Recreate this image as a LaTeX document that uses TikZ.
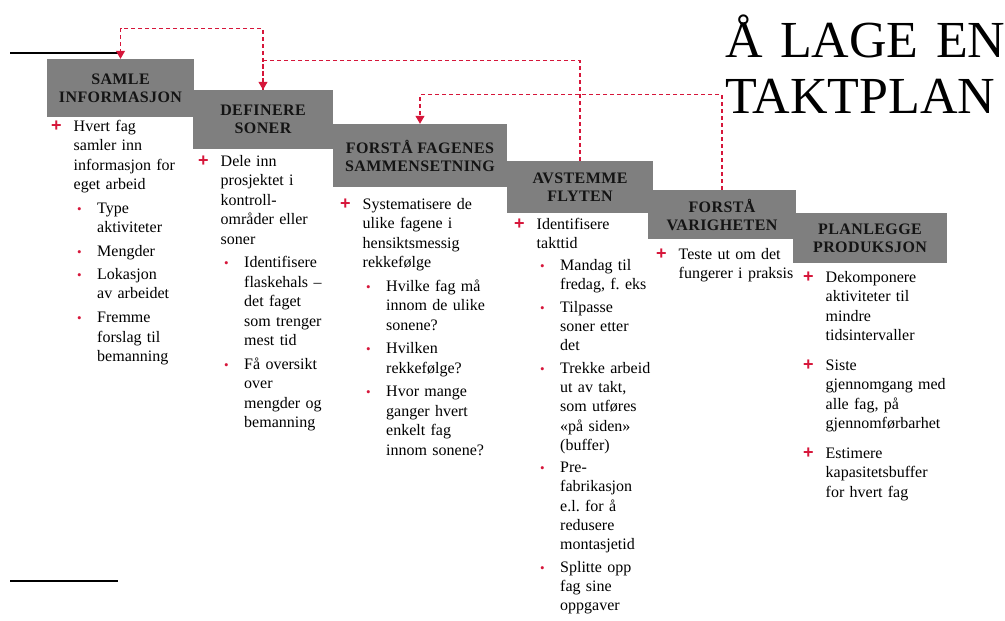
\documentclass[tikz,border=0pt]{standalone}
\usepackage{fontspec}
\setmainfont{Liberation Serif}
\newfontfamily\kopffont{Liberation Serif}[LetterSpace=2.5]
\newfontfamily\plusfont{Liberation Sans}
\usetikzlibrary{arrows.meta}
\definecolor{rd}{RGB}{214,22,58}
\definecolor{boxgray}{RGB}{127,127,127}
\newlength\punktgap
\setlength\punktgap{4pt}
\newcommand\hpunkt[1]{\let\\\newline\hangindent=22.5pt\hangafter=0\noindent\llap{\makebox[22.5pt][l]{\textcolor{rd}{\plusfont\fontsize{18}{18}\selectfont\bfseries +}}}#1\par\vspace{\punktgap}}
\newcommand\upunkt[1]{\let\\\newline\hangindent=46pt\hangafter=0\noindent\llap{\makebox[20pt][l]{\textcolor{rd}{\fontsize{13}{13}\selectfont •}}}#1\par\vspace{\punktgap}}
\begin{document}
\begin{tikzpicture}[x=1pt, y=-1pt,
    steg/.style={fill=boxgray, inner sep=0pt, align=center, text=black!92,
      font=\kopffont\bfseries\fontsize{16}{18}\selectfont},
    liste/.style={anchor=base west, inner sep=0pt, text width=160pt,
      font=\fontsize{16}{19.5}\selectfont},
    tilbake/.style={draw=rd, line width=1.1pt, dash pattern=on 4pt off 3pt,
      -{Triangle[width=9pt,length=8pt]}}]
    \useasboundingbox (0,0) rectangle (1005,621);

    \draw[line width=1.5pt] (10,53) -- (118,53);
    \draw[line width=1.5pt] (10,581) -- (118,581);

    \node[anchor=base west, inner sep=0pt, text width=290pt,
      font=\fontsize{52}{56}\selectfont] (tittel) at (725,57) {Å LAGE EN\\TAKTPLAN};

    % trinnene
    \node[steg, minimum width=147pt, minimum height=58pt] (b1) at (120.5,88) {SAMLE\\INFORMASJON};
    \node[steg, minimum width=140pt, minimum height=59pt] (b2) at (263,119.5) {DEFINERE\\SONER};
    \node[steg, minimum width=174pt, minimum height=63pt] (b3) at (420,155.5) {FORSTÅ FAGENES\\SAMMENSETNING};
    \node[steg, minimum width=146pt, minimum height=52pt] (b4) at (580,187) {AVSTEMME\\FLYTEN};
    \node[steg, minimum width=148pt, minimum height=49pt] (b5) at (722,214.5) {FORSTÅ\\VARIGHETEN};
    \node[steg, minimum width=154pt, minimum height=50pt] (b6) at (870,238) {PLANLEGGE\\PRODUKSJON};

    \draw[tilbake] (b2.north) -- ++(0,-61) -| (b1.north);
    \draw[tilbake] (b4.north) -- ++(0,-100) -| (b2.north);
    \draw[tilbake] (b5.north) -- ++(0,-95) -| (b3.north);

    % punktene
    \node[liste] (l1) at (51,131) {%
      \hpunkt{Hvert fag\\samler inn\\informasjon for\\eget arbeid}
      \upunkt{Type\\aktiviteter}
      \upunkt{Mengder}
      \upunkt{Lokasjon\\av arbeidet}
      \upunkt{Fremme\\forslag til\\bemanning}};
    \node[liste] (l2) at (198,166) {%
      \hpunkt{Dele inn\\prosjektet i\\kontroll-\\områder eller\\soner}
      \upunkt{Identifisere\\flaskehals –\\det faget\\som trenger\\mest tid}
      \upunkt{Få oversikt\\over\\mengder og\\bemanning}};
    \node[liste] (l3) at (340,209) {%
      \hpunkt{Systematisere de\\ulike fagene i\\hensiktsmessig\\rekkefølge}
      \upunkt{Hvilke fag må\\innom de ulike\\sonene?}
      \upunkt{Hvilken\\rekkefølge?}
      \upunkt{Hvor mange\\ganger hvert\\enkelt fag\\innom sonene?}};
    \node[liste, font=\fontsize{16}{19.3}\selectfont] (l4) at (514,229) {\setlength\punktgap{3pt}%
      \hpunkt{Identifisere\\takttid}
      \upunkt{Mandag til\\fredag, f.\ eks}
      \upunkt{Tilpasse\\soner etter\\det}
      \upunkt{Trekke arbeid\\ut av takt,\\som utføres\\«på siden»\\(buffer)}
      \upunkt{Pre-\\fabrikasjon\\e.l.\ for å\\redusere\\montasjetid}
      \upunkt{Splitte opp\\fag sine\\oppgaver}};
    \node[liste] (l5) at (656,259) {%
      \hpunkt{Teste ut om det\\fungerer i praksis}};
    \node[liste] (l6) at (803,282) {\setlength\punktgap{10pt}%
      \hpunkt{Dekomponere\\aktiviteter til\\mindre\\tidsintervaller}
      \hpunkt{Siste\\gjennomgang med\\alle fag, på\\gjennomførbarhet}
      \hpunkt{Estimere\\kapasitetsbuffer\\for hvert fag}};
  \end{tikzpicture}
\end{document}
